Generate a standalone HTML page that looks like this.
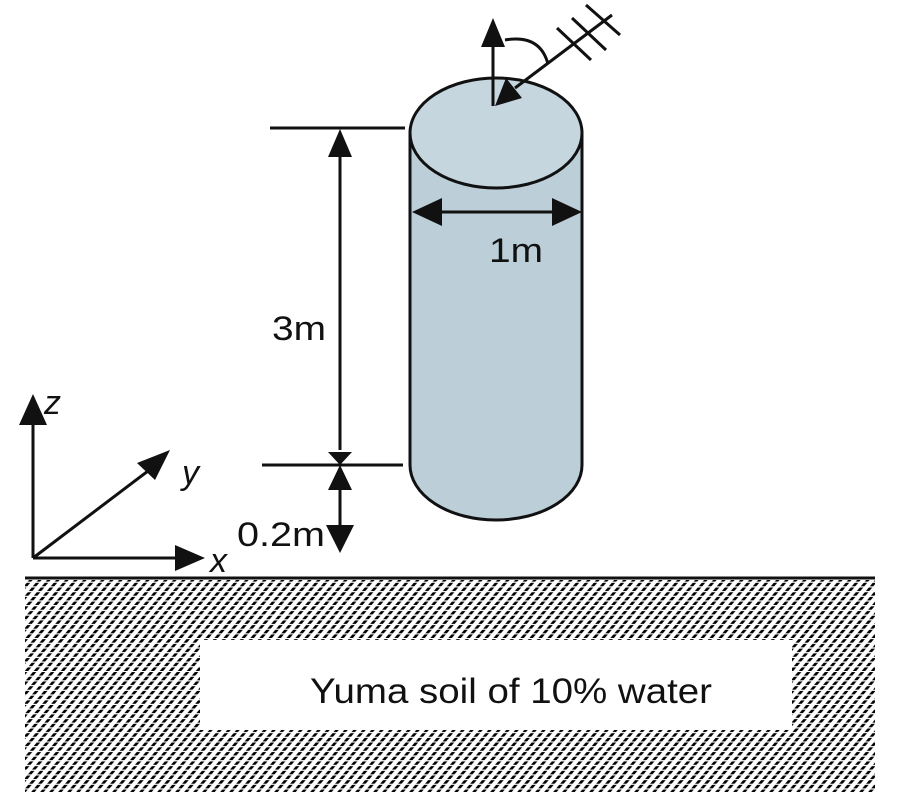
<!DOCTYPE html>
<html><head><style>html,body{margin:0;padding:0;background:#fff}</style></head>
<body>
<svg width="900" height="800" xmlns="http://www.w3.org/2000/svg" font-family="Liberation Sans, sans-serif">
<defs>
<pattern id="h" width="9" height="800" patternUnits="userSpaceOnUse" patternTransform="skewX(-40)">
<line x1="4.5" y1="0" x2="4.5" y2="800" stroke="#000" stroke-width="3.5" stroke-dasharray="3.5 1.2"/>
</pattern>
</defs>
<rect x="25" y="580" width="850" height="212" fill="url(#h)"/>
<rect x="200" y="640" width="592" height="90" fill="#fff"/>
<text x="310" y="703" font-size="35" textLength="402" lengthAdjust="spacingAndGlyphs" fill="#111">Yuma soil of 10% water</text>
<line x1="25" y1="578" x2="875" y2="578" stroke="#111" stroke-width="3"/>
<path d="M410,133 L410,465 A86,55 0 0 0 582,465 L582,133 Z" fill="#bccfd8" stroke="#111" stroke-width="3"/>
<ellipse cx="496" cy="133" rx="86" ry="55" fill="#c5d6de" stroke="#111" stroke-width="3"/>
<line x1="440" y1="212" x2="555" y2="212" stroke="#111" stroke-width="3"/>
<path d="M412,212 L442,198 L442,226Z M582,212 L552,198 L552,226Z" fill="#111"/>
<text x="489" y="262" font-size="34" textLength="54" lengthAdjust="spacingAndGlyphs" fill="#111">1m</text>
<g stroke="#111" stroke-width="3">
<line x1="270" y1="128" x2="405" y2="128"/>
<line x1="262" y1="465" x2="403" y2="465"/>
<line x1="340" y1="150" x2="340" y2="450"/>
<line x1="340" y1="485" x2="340" y2="530"/>
</g>
<path d="M340,129 L328,157 L352,157Z M340,465 L328,452 L352,452Z M340,465 L328,490 L352,490Z M340,553 L326,525 L354,525Z" fill="#111"/>
<text x="272" y="340" font-size="34" textLength="54" lengthAdjust="spacingAndGlyphs" fill="#111">3m</text>
<text x="237" y="546" font-size="34" textLength="88" lengthAdjust="spacingAndGlyphs" fill="#111">0.2m</text>
<g stroke="#111" stroke-width="3" fill="none">
<line x1="33" y1="558" x2="33" y2="420"/>
<line x1="33" y1="558" x2="180" y2="558"/>
<line x1="33" y1="558" x2="152" y2="468"/>
</g>
<path d="M33,394 L19,425 L47,425Z M205,558 L175,545 L175,571Z M170,450 L137,463 L155,480Z" fill="#111"/>
<text x="44" y="414" font-size="34" font-style="italic" fill="#111">z</text>
<text x="182" y="484" font-size="34" font-style="italic" fill="#111">y</text>
<text x="210" y="572" font-size="34" font-style="italic" fill="#111">x</text>
<g stroke="#111" stroke-width="3" fill="none">
<line x1="493" y1="106" x2="493" y2="40"/>
<line x1="515" y1="88" x2="612" y2="15"/>
<path d="M505,40 Q540,34 548,64"/>
<line x1="557" y1="28" x2="591" y2="60"/>
<line x1="572" y1="18" x2="606" y2="50"/>
<line x1="586" y1="5" x2="620" y2="35"/>
</g>
<path d="M493,18 L481,47 L505,47Z M495,106 L506,78 L522,98Z" fill="#111"/>
</svg>
</body></html>
